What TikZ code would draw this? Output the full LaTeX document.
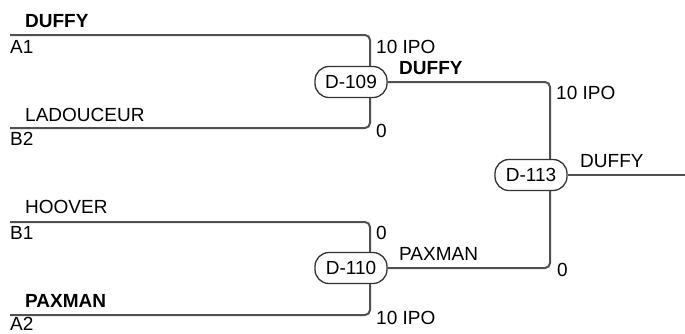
\documentclass[tikz,border=0pt]{standalone}
\usepackage{fontspec}
\setmainfont{Liberation Sans}
\usetikzlibrary{backgrounds}
\definecolor{linegray}{HTML}{505050}

\begin{document}
\begin{tikzpicture}[x=1pt,y=-1pt,
    font=\fontsize{19}{21}\selectfont,
    bracket/.style={linegray, line width=2pt, rounded corners=5pt},
    game/.style={draw=black!80, line width=1.3pt, fill=white, rounded corners=14pt,
        minimum width=72pt, minimum height=31pt, inner sep=0pt},
    lbl/.style={anchor=base west, inner sep=0pt}]
    \useasboundingbox (0,0) rectangle (685,333);
    % player slots
    \coordinate (a1) at (10,35);
    \coordinate (b2) at (10,128);
    \coordinate (b1) at (10,222);
    \coordinate (a2) at (10,315);
    \coordinate (j109) at (370,82);
    \coordinate (j110) at (370,268);
    \coordinate (j113) at (550,175);
    \coordinate (champ) at (685,175);
    % games
    \node[game] (m109) at (351,82) {D-109};
    \node[game] (m110) at (351,268) {D-110};
    \node[game] (m113) at (531,175) {D-113};
    \begin{scope}[on background layer]
        \draw[bracket] (a1) -| (j109) |- (b2);
        \draw[bracket] (b1) -| (j110) |- (a2);
        \draw[bracket] (m109.east) -| (j113) |- (m110.east);
        \draw[bracket] (m113.east) -- (champ);
    \end{scope}
    % names and seeds
    \node[lbl] (nduffy) at (25,27) {\textbf{DUFFY}};
    \node[lbl] (sa1) at (10,53) {A1};
    \node[lbl] (nlad) at (25,121) {LADOUCEUR};
    \node[lbl] (sb2) at (10,145) {B2};
    \node[lbl] (nhoover) at (25,213) {HOOVER};
    \node[lbl] (sb1) at (10,239) {B1};
    \node[lbl] (npax) at (25,307) {\textbf{PAXMAN}};
    \node[lbl] (sa2) at (10,330) {A2};
    % scores and winners
    \node[lbl] (s1) at (376,53) {10 IPO};
    \node[lbl] (w109) at (399,74) {\textbf{DUFFY}};
    \node[lbl] (s2) at (376,137) {0};
    \node[lbl] (s3) at (376,239) {0};
    \node[lbl] (w110) at (399,260) {PAXMAN};
    \node[lbl] (s4) at (376,324) {10 IPO};
    \node[lbl] (s5) at (556,99) {10 IPO};
    \node[lbl] (s6) at (557,276) {0};
    \node[lbl] (w113) at (580,167) {DUFFY};
\end{tikzpicture}
\end{document}
